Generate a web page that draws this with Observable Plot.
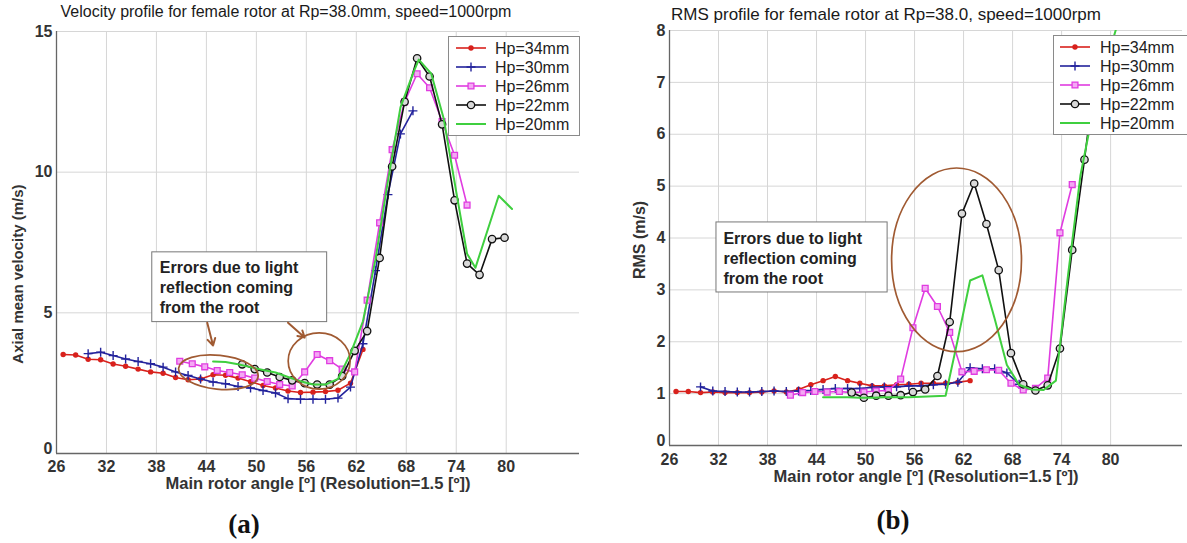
<!DOCTYPE html>
<html>
<head>
<meta charset="utf-8">
<script src="https://cdn.jsdelivr.net/npm/d3@7"></script>
<script src="https://cdn.jsdelivr.net/npm/@observablehq/plot@0.6"></script>
<style>
  body { margin: 0; background: #fff; font-family: "Liberation Sans", Arial, sans-serif; }
  #wrap { position: relative; width: 1187px; height: 543px; overflow: hidden; background: #fff; }
  .panel { position: absolute; top: 0; }
  .title { position: absolute; color: #1a1a1a; white-space: nowrap; transform: translate(-50%, -50%); }
  .ylab { position: absolute; font-weight: bold; color: #333; white-space: nowrap; transform: translate(-50%, -50%) rotate(-90deg); }
  .cap { position: absolute; font-family: "Liberation Serif", "DejaVu Serif", serif; font-weight: bold; font-size: 27px; color: #111; transform: translate(-50%, -50%); }
  .legend { position: absolute; }
</style>
</head>
<body>
<div id="wrap"></div>
<script>
// ---------- data ----------
const seriesNames = ["Hp=34mm", "Hp=30mm", "Hp=26mm", "Hp=22mm", "Hp=20mm"];
const xTicks = [26, 32, 38, 44, 50, 56, 62, 68, 74, 80];
const yTicksVel = [0, 5, 10, 15];
const yTicksRms = [0, 1, 2, 3, 4, 5, 6, 7, 8];

const titleVel = "Velocity profile for female rotor at Rp=38.0mm, speed=1000rpm";
const titleRms = "RMS profile for female rotor at Rp=38.0, speed=1000rpm";
const xLabel = "Main rotor angle [º] (Resolution=1.5 [º])";
const yLabelVel = "Axial mean velocity (m/s)";
const yLabelRms = "RMS (m/s)";
const noteLines = ["Errors due to light", "reflection coming", "from the root"];

// angles (deg)
const ang34 = [26.8, 28.3, 29.8, 31.3, 32.8, 34.3, 35.8, 37.3, 38.8, 40.3, 41.8, 43.3, 44.8, 46.3, 47.8, 49.3, 50.8, 52.3, 53.8, 55.3, 56.8, 58.3, 59.8, 61.3, 62.8];
const ang30 = [29.8, 31.3, 32.8, 34.3, 35.8, 37.3, 38.8, 40.3, 41.8, 43.3, 44.8, 46.3, 47.8, 49.3, 50.8, 52.3, 53.8, 55.3, 56.8, 58.3, 59.8, 61.3, 62.8, 64.3, 65.8, 67.3, 68.8];
const ang26 = [40.8, 42.3, 43.8, 45.3, 46.8, 48.3, 49.8, 51.3, 52.8, 54.3, 55.8, 57.3, 58.8, 60.3, 61.8, 63.3, 64.8, 66.3, 67.8, 69.3, 70.8, 72.3, 73.8, 75.3];
const ang22 = [48.3, 49.8, 51.3, 52.8, 54.3, 55.8, 57.3, 58.8, 60.3, 61.8, 63.3, 64.8, 66.3, 67.8, 69.3, 70.8, 72.3, 73.8, 75.3, 76.8, 78.3, 79.8];
const ang20Vel = [44.8, 46.3, 47.8, 49.3, 50.8, 52.3, 53.8, 55.3, 56.8, 58.3, 59.8, 61.3, 62.8, 64.3, 65.8, 67.3, 68.8, 69.5, 71.0, 72.5, 74.0, 75.3, 76.3, 79.1, 80.7];
const ang22Rms = [48.3, 49.8, 51.3, 52.8, 54.3, 55.8, 57.3, 58.8, 60.3, 61.8, 63.3, 64.8, 66.3, 67.8, 69.3, 70.8, 72.3, 73.8, 75.3, 76.8, 78.3];
const ang20Rms = [44.8, 46.3, 47.8, 49.3, 50.8, 52.3, 53.8, 55.3, 56.8, 58.3, 59.8, 61.3, 62.8, 64.3, 65.8, 67.3, 68.8, 70.3, 71.8, 73.3, 74.8, 76.3, 77.8, 79.3, 80.8];

// (a) axial mean velocity, m/s
const vel34 = [3.52, 3.50, 3.35, 3.33, 3.18, 3.10, 3.00, 2.90, 2.85, 2.70, 2.62, 2.65, 2.80, 2.78, 2.68, 2.55, 2.42, 2.33, 2.22, 2.17, 2.18, 2.20, 2.25, 2.50, 3.70];
const vel30 = [3.55, 3.60, 3.48, 3.36, 3.27, 3.19, 3.07, 2.90, 2.77, 2.65, 2.54, 2.48, 2.38, 2.33, 2.24, 2.15, 1.95, 1.93, 1.93, 1.93, 1.97, 2.36, 3.90, 6.50, 9.20, 11.36, 12.18];
const vel26 = [3.28, 3.19, 3.08, 2.95, 2.88, 2.80, 2.68, 2.56, 2.45, 2.40, 2.90, 3.52, 3.30, 3.00, 2.90, 5.45, 8.20, 10.80, 12.50, 13.50, 13.00, 11.80, 10.60, 8.83];
const vel22 = [3.17, 3.00, 2.88, 2.72, 2.60, 2.50, 2.45, 2.45, 2.75, 3.65, 4.35, 6.95, 10.20, 12.50, 14.05, 13.40, 11.70, 9.00, 6.75, 6.35, 7.62, 7.67];
const vel20 = [3.27, 3.25, 3.17, 3.07, 2.97, 2.88, 2.72, 2.57, 2.45, 2.45, 2.65, 3.55, 4.70, 6.90, 9.70, 12.30, 13.50, 14.00, 13.50, 11.90, 9.30, 7.10, 6.60, 9.16, 8.69];

// (b) RMS, m/s
const rms34 = [1.04, 1.04, 1.02, 1.03, 1.02, 1.02, 1.02, 1.03, 1.05, 1.03, 1.08, 1.17, 1.25, 1.33, 1.25, 1.20, 1.15, 1.15, 1.17, 1.18, 1.20, 1.20, 1.20, 1.22, 1.25];
const rms30 = [1.13, 1.05, 1.04, 1.03, 1.03, 1.04, 1.05, 1.04, 1.05, 1.06, 1.08, 1.10, 1.10, 1.10, 1.12, 1.13, 1.13, 1.15, 1.15, 1.17, 1.18, 1.22, 1.50, 1.48, 1.48, 1.40, 1.18];
const rms26 = [0.97, 1.02, 1.04, 1.03, 1.04, 1.02, 1.03, 1.05, 1.06, 1.28, 2.27, 3.03, 2.68, 2.18, 1.42, 1.43, 1.46, 1.45, 1.20, 1.07, 1.10, 1.30, 4.10, 5.03];
const rms22 = [1.02, 0.92, 0.96, 0.96, 0.97, 1.03, 1.08, 1.34, 2.38, 4.47, 5.05, 4.27, 3.38, 1.78, 1.18, 1.06, 1.16, 1.87, 3.77, 5.51, 7.40];
const rms20 = [0.93, 0.93, 0.93, 0.92, 0.92, 0.93, 0.93, 0.93, 0.94, 0.95, 0.96, 2.05, 3.18, 3.28, 2.45, 1.55, 1.17, 1.08, 1.07, 1.25, 3.30, 5.20, 6.40, 7.30, 8.10];

// annotations (data units)
const noteBoxVel = [{x1: 37.5, x2: 58.5, y1: 4.67, y2: 7.15}];
const noteAtVel = [{x: 38.4, y: 5.92}];
const arrowsVel = [{x1: 44.1, y1: 4.65, x2: 44.8, y2: 3.84}, {x1: 53.8, y1: 4.65, x2: 55.8, y2: 4.12}];
const ellipsesVel = [{cx: 45.5, cy: 2.87, rx: 4.8, ry: 0.6, rot: 6}, {cx: 57.6, cy: 3.27, rx: 3.72, ry: 1.0, rot: 0}];
const noteBoxRms = [{x1: 31.75, x2: 52.7, y1: 2.95, y2: 4.30}];
const noteAtRms = [{x: 32.6, y: 3.62}];
const ellipsesRms = [{cx: 61.2, cy: 3.57, rx: 7.95, ry: 1.77, rot: 0}];

// ---------- styles ----------
const styles = [
  {color: "#d8211c", symbol: "circle", r: 2.7, fill: "#d8211c", stroke: "none", sw: 0},
  {color: "#23239c", symbol: "plus", r: 3.0, fill: "none", stroke: "#23239c", sw: 1.4},
  {color: "#e03ce0", symbol: "square", r: 3.3, fill: "#f4a8f4", stroke: "#e03ce0", sw: 1.3},
  {color: "#111111", symbol: "circle", r: 3.7, fill: "#d9d9d9", stroke: "#111111", sw: 1.3},
  {color: "#3fcf3f", symbol: null}
];
const brown = "#a05a32";
const font = "Liberation Sans, Arial, sans-serif";

function rows(xs, ys) { return xs.map((x, i) => ({x, y: ys[i]})); }

function ellipseMark(list) {
  return (index, scales) => {
    const g = d3.create("svg:g");
    for (const e of list) {
      const cx = scales.x(e.cx), cy = scales.y(e.cy);
      const rx = Math.abs(scales.x(e.cx + e.rx) - cx);
      const ry = Math.abs(scales.y(e.cy + e.ry) - cy);
      g.append("ellipse").attr("cx", cx).attr("cy", cy).attr("rx", rx).attr("ry", ry)
        .attr("transform", `rotate(${e.rot} ${cx} ${cy})`)
        .attr("fill", "none").attr("stroke", brown).attr("stroke-width", 1.7);
    }
    return g.node();
  };
}

function seriesMarks(list) {
  const marks = [];
  list.forEach((data, i) => {
    const s = styles[i];
    marks.push(Plot.line(data, {x: "x", y: "y", stroke: s.color, strokeWidth: i === 4 ? 2 : 1.6, clip: true}));
    if (s.symbol) marks.push(Plot.dot(data, {x: "x", y: "y", symbol: s.symbol, r: s.r, fill: s.fill, stroke: s.stroke, strokeWidth: s.sw, clip: true}));
  });
  return marks;
}

function panel(opts) {
  const tickText = {tickSize: 0, fontSize: 16, fontWeight: "bold", fill: "#333", label: null, tickFormat: d => String(d)};
  return Plot.plot({
    width: opts.width, height: 500,
    marginLeft: opts.ml, marginRight: opts.mr, marginTop: opts.mt, marginBottom: opts.mb,
    style: {fontFamily: font, background: "transparent", color: "#333", overflow: "visible"},
    x: {domain: [26, 88.8], label: null},
    y: {domain: opts.yDomain, label: null},
    marks: [
      Plot.gridX(xTicks, {stroke: "#d6d6d6", strokeOpacity: 1}),
      Plot.gridY(opts.yTicks, {stroke: "#d6d6d6", strokeOpacity: 1}),
      Plot.ruleX([26], {stroke: "#666", strokeWidth: 1.3}),
      Plot.ruleY([0], {stroke: "#666", strokeWidth: 1.3}),
      Plot.axisX(xTicks, {...tickText, tickPadding: opts.xPad}),
      Plot.axisY(opts.yTicks.filter(d => d !== 0), {...tickText, tickPadding: 4}),
      Plot.axisY([0], {...tickText, tickPadding: 4, dy: -5}),
      Plot.text([xLabel], {frameAnchor: "bottom", dy: opts.xlDy, fontSize: 16.5, fontWeight: "bold", fill: "#333"}),
      ...seriesMarks(opts.series),
      Plot.rect(opts.box, {x1: "x1", x2: "x2", y1: "y1", y2: "y2", fill: "white", stroke: "#777", strokeWidth: 1}),
      Plot.text(opts.noteAt, {x: "x", y: "y", text: () => noteLines.join("\n"), textAnchor: "start", lineAnchor: "middle", lineHeight: 1.25, fontSize: 16, fontWeight: "bold", fill: "#222"}),
      ...(opts.arrows ? [Plot.arrow(opts.arrows, {x1: "x1", y1: "y1", x2: "x2", y2: "y2", stroke: brown, strokeWidth: 2, headLength: 8})] : []),
      ellipseMark(opts.ellipses)
    ]
  });
}

function legend(left, top, width, height, y0, step, lx0, lx1, tx) {
  const svg = d3.create("svg").attr("class", "legend").attr("width", width).attr("height", height)
    .style("left", left + "px").style("top", top + "px");
  svg.append("rect").attr("x", 0.5).attr("y", 0.5).attr("width", width - 1).attr("height", height - 1)
    .attr("fill", "#fff").attr("stroke", "#8a8a8a");
  seriesNames.forEach((name, i) => {
    const s = styles[i];
    const y = y0 + i * step;
    svg.append("line").attr("x1", lx0).attr("x2", lx1).attr("y1", y).attr("y2", y)
      .attr("stroke", s.color).attr("stroke-width", i === 4 ? 2 : 1.6);
    if (s.symbol) {
      const sym = {circle: d3.symbolCircle, plus: d3.symbolPlus, square: d3.symbolSquare}[s.symbol];
      svg.append("path").attr("d", d3.symbol(sym, Math.PI * s.r * s.r)())
        .attr("transform", `translate(${(lx0 + lx1) / 2},${y})`)
        .attr("fill", s.fill).attr("stroke", s.stroke).attr("stroke-width", s.sw);
    }
    svg.append("text").attr("x", tx).attr("y", y).attr("dy", "0.35em")
      .attr("font-family", font).attr("font-size", 16).attr("fill", "#222").text(name);
  });
  return svg.node();
}

const wrap = document.getElementById("wrap");

const velSeries = [rows(ang34, vel34), rows(ang30, vel30), rows(ang26, vel26), rows(ang22, vel22), rows(ang20Vel, vel20)];
const rmsSeries = [rows(ang34, rms34), rows(ang30, rms30), rows(ang26, rms26), rows(ang22Rms, rms22), rows(ang20Rms, rms20)];

const pa = panel({width: 590, ml: 56, mr: 11, mt: 31, mb: 47, yDomain: [0, 15], yTicks: yTicksVel,
  xPad: 7, xlDy: 35, series: velSeries,
  box: noteBoxVel, noteAt: noteAtVel, arrows: arrowsVel, ellipses: ellipsesVel});
pa.classList.add("panel"); pa.style.left = "0px";
wrap.appendChild(pa);

const pb = panel({width: 597, ml: 79, mr: 5, mt: 30, mb: 55, yDomain: [0, 8], yTicks: yTicksRms,
  xPad: 8, xlDy: 36, series: rmsSeries,
  box: noteBoxRms, noteAt: noteAtRms, arrows: null, ellipses: ellipsesRms});
pb.classList.add("panel"); pb.style.left = "590px";
wrap.appendChild(pb);

wrap.appendChild(legend(448, 36, 132, 100, 12, 19, 8, 38, 47));
wrap.appendChild(legend(1053, 35, 140, 100, 12, 19, 7, 37, 47));

function addDiv(cls, text, x, y, size) {
  const d = document.createElement("div");
  d.className = cls; d.textContent = text;
  d.style.left = x + "px"; d.style.top = y + "px";
  if (size) d.style.fontSize = size + "px";
  wrap.appendChild(d);
}
addDiv("title", titleVel, 286, 12, 16);
addDiv("title", titleRms, 886, 15, 17);
addDiv("ylab", yLabelVel, 17, 274, 15);
addDiv("ylab", yLabelRms, 640, 240, 16);
addDiv("cap", "(a)", 244, 524);
addDiv("cap", "(b)", 893, 520);
</script>
</body>
</html>
